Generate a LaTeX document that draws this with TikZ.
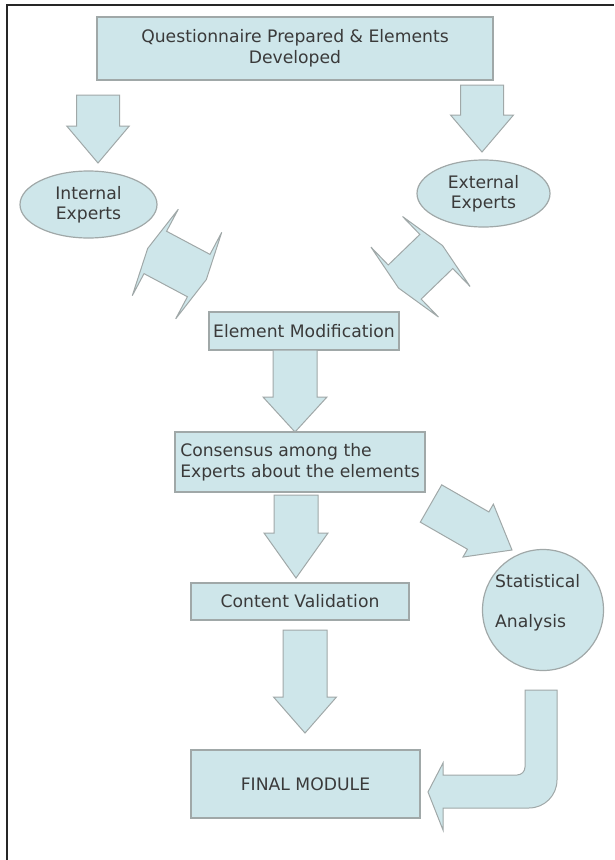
\documentclass[tikz,border=0pt]{standalone}
\usepackage{fontspec}
\setmainfont{DejaVu Sans}
\usetikzlibrary{shapes.geometric,calc}

\definecolor{paleblue}{RGB}{206,230,234}
\definecolor{edgegray}{RGB}{160,168,168}
\definecolor{inkgray}{RGB}{58,58,58}

\tikzset{
  stage/.style={draw=edgegray, fill=paleblue, line width=1.2pt, text=inkgray,
    inner sep=0pt, align=center},
  expert/.style={stage, ellipse, minimum width=135pt, minimum height=67pt},
  fat/.style={draw=edgegray, fill=paleblue, line width=1pt, line join=miter},
}

% block arrow: tail, tip, shaft half width, head half width, head length
\newcommand{\fatarrow}[5]{%
  \coordinate (hb) at ($(#2)!#5!(#1)$);
  \draw[fat] ($(#1)!#3!90:(#2)$) -- ($(hb)!#3!90:(#2)$) -- ($(hb)!#4!90:(#2)$)
    -- (#2) -- ($(hb)!#4!-90:(#2)$) -- ($(hb)!#3!-90:(#2)$)
    -- ($(#1)!#3!-90:(#2)$) -- cycle;
}
% double block arrow: tip, tip, shaft half width, head half width, head length
\newcommand{\twinarrow}[5]{%
  \coordinate (ha) at ($(#1)!#5!(#2)$);
  \coordinate (hb) at ($(#2)!#5!(#1)$);
  \draw[fat] (#1) -- ($(ha)!#4!90:(#2)$) -- ($(ha)!#3!90:(#2)$)
    -- ($(hb)!#3!90:(#2)$) -- ($(hb)!#4!90:(#2)$) -- (#2)
    -- ($(hb)!#4!-90:(#2)$) -- ($(hb)!#3!-90:(#2)$)
    -- ($(ha)!#3!-90:(#2)$) -- ($(ha)!#4!-90:(#2)$) -- cycle;
}

\begin{document}
\begin{tikzpicture}[x=1pt,y=-1pt,font=\fontsize{17.2}{20.5}\selectfont]
  \useasboundingbox (0,0) rectangle (614,860);
  % frame
  \draw[line width=2pt, black!85] (7,860) -- (7,5) -- (614,5);
  % boxes
  \node[stage, minimum width=396pt, minimum height=63pt] (quest) at (295,48.5)
    {Questionnaire Prepared \& Elements\\Developed};
  \node[expert, minimum width=137pt] (internal) at (88.5,204.5) {Internal\\Experts};
  \node[expert, minimum width=133pt] (external) at (483.5,193.5) {External\\Experts};
  \node[stage, minimum width=190pt, minimum height=38pt] (modif) at (304,331)
    {Element Modification};
  \node[stage, align=left, minimum width=250pt, minimum height=60pt] (consensus) at (300,462)
    {Consensus among the\\Experts about the elements};
  \node[stage, minimum width=218pt, minimum height=37pt] (content) at (300,601.5)
    {Content Validation};
  \node[stage, minimum width=229pt, minimum height=68pt] (final) at (305.5,784)
    {FINAL MODULE};
  \node[stage, circle, minimum size=121pt] (stat) at (543,610) {};
  \node[text=inkgray, align=left, anchor=west, inner sep=0pt] (statlabel) at (495,603)
    {Statistical\\[19.5pt]Analysis};

  % arrow ends
  \coordinate (qa) at (98,95);     \coordinate (qb) at (98,163);
  \coordinate (qc) at (482,85);    \coordinate (qd) at (482,152);
  \coordinate (ia) at (147.7,248.4); \coordinate (ib) at (206.3,279.6);
  \coordinate (ea) at (442.5,245.5); \coordinate (eb) at (398.5,288);
  \coordinate (ma) at (295,350);   \coordinate (mb) at (295,432);
  \coordinate (ca) at (296,495);   \coordinate (cb) at (296,578);
  \coordinate (sa) at (431,503.5); \coordinate (sb) at (512,550);
  \coordinate (va) at (305,630);   \coordinate (vb) at (305,733);

  % block arrows
  \fatarrow{qa}{qb}{21.5pt}{31.3pt}{37pt}
  \fatarrow{qc}{qd}{21.5pt}{31.5pt}{37pt}
  \twinarrow{ia}{ib}{24pt}{49pt}{8.6pt}
  \twinarrow{ea}{eb}{23.7pt}{48.6pt}{8.6pt}
  \fatarrow{ma}{mb}{22pt}{32pt}{35pt}
  \fatarrow{ca}{cb}{22pt}{32pt}{45pt}
  \fatarrow{sa}{sb}{21.5pt}{30.5pt}{39pt}
  \fatarrow{va}{vb}{22pt}{31.5pt}{36pt}

  % bent arrow back to the module
  \draw[fat] (525,690) -- (557,690) -- (557,780)
    arc[start angle=0, end angle=90, radius=28] -- (443,808) -- (443,830)
    -- (428,792) -- (443,763) -- (443,775) -- (517,775)
    arc[start angle=90, end angle=0, radius=8] -- cycle;
\end{tikzpicture}
\end{document}
